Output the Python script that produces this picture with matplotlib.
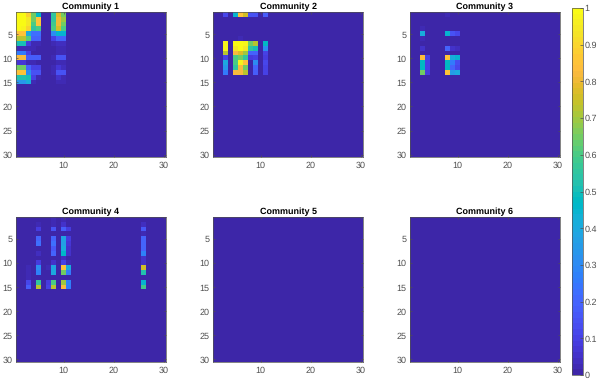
#community matrices, one heatmap per community
import matplotlib
matplotlib.use('Agg')
import matplotlib.pyplot as plt
import numpy as np
from matplotlib.colors import ListedColormap

plt.rcParams['font.family'] = ['Liberation Sans', 'DejaVu Sans']
plt.rcParams['text.hinting'] = 'none'
plt.rcParams['text.hinting_factor'] = 1

N = 30
titles = ['Community 1', 'Community 2', 'Community 3', 'Community 4', 'Community 5', 'Community 6']
xticks = [10, 20, 30]
yticks = [5, 10, 15, 20, 25, 30]
cbar_ticks = [0, 0.1, 0.2, 0.3, 0.4, 0.5, 0.6, 0.7, 0.8, 0.9, 1]
cbar_labels = ['0', '0.1', '0.2', '0.3', '0.4', '0.5', '0.6', '0.7', '0.8', '0.9', '1']

#rows 1-15, columns 1-11
com1 = [
    [1.00, 1.00, 0.88, 0.65, 0.48, 0, 0, 0.55, 0.78, 0.65, 0],
    [1.00, 1.00, 0.95, 0.65, 0.85, 0, 0, 0.55, 0.80, 0.70, 0],
    [1.00, 1.00, 0.95, 0.60, 0.85, 0, 0, 0.58, 0.80, 0.65, 0],
    [1.00, 0.97, 0.90, 0.55, 0.60, 0, 0, 0.60, 0.75, 0.60, 0],
    [0.85, 0.85, 0.40, 0.22, 0.22, 0, 0, 0.30, 0.45, 0.45, 0],
    [0.72, 0.72, 0.62, 0.20, 0.20, 0, 0, 0.10, 0.20, 0.20, 0],
    [0.50, 0.50, 0.08, 0.03, 0.02, 0, 0, 0.02, 0.04, 0.04, 0],
    [0.02, 0.02, 0.03, 0.02, 0.01, 0, 0, 0.01, 0.02, 0.02, 0],
    [0.25, 0.25, 0.10, 0.01, 0.01, 0, 0, 0.01, 0.02, 0.02, 0],
    [0.82, 0.82, 0.18, 0.18, 0.18, 0, 0, 0.02, 0.15, 0.15, 0],
    [0.07, 0.07, 0.03, 0.02, 0.01, 0, 0, 0.01, 0.03, 0.02, 0],
    [0.65, 0.65, 0.20, 0.10, 0.10, 0, 0, 0.02, 0.07, 0.04, 0],
    [0.85, 0.85, 0.30, 0.15, 0.15, 0, 0, 0.03, 0.15, 0.15, 0],
    [0.52, 0.52, 0.50, 0.10, 0.03, 0, 0, 0.01, 0.05, 0.03, 0],
    [0.33, 0.33, 0.42, 0.03, 0.01, 0, 0, 0.01, 0.03, 0.02, 0],
]
com2 = [
    [0, 0, 0.12, 0, 0.45, 0.85, 0.75, 0.15, 0.15, 0, 0.18],
    [0, 0, 0, 0, 0, 0, 0, 0, 0, 0, 0],
    [0, 0, 0, 0, 0, 0, 0, 0, 0, 0, 0],
    [0, 0, 0, 0, 0, 0, 0, 0, 0, 0, 0],
    [0, 0, 0, 0, 0, 0, 0, 0, 0, 0, 0],
    [0, 0, 0, 0, 0, 0.03, 0, 0, 0, 0, 0],
    [0, 0, 0.97, 0, 1.00, 1.00, 0.97, 0.65, 0.72, 0, 0.48],
    [0, 0, 0.97, 0, 0.95, 1.00, 0.95, 0.55, 0.50, 0, 0.30],
    [0, 0, 0.72, 0, 0.82, 0.78, 0.70, 0.20, 0.20, 0, 0.10],
    [0, 0, 0.10, 0, 0.60, 0.65, 0.55, 0.08, 0.10, 0, 0.08],
    [0, 0, 0.40, 0, 0.60, 0.97, 0.85, 0, 0.30, 0, 0.12],
    [0, 0, 0.33, 0, 0.55, 0.82, 0.65, 0, 0.20, 0, 0.10],
    [0, 0, 0.25, 0, 0.82, 0.82, 0.72, 0, 0.18, 0, 0.10],
    [0, 0, 0, 0, 0, 0, 0, 0, 0, 0, 0],
    [0, 0, 0, 0, 0, 0, 0, 0, 0, 0, 0],
]
com3 = [
    [0, 0, 0, 0, 0, 0, 0, 0.02, 0, 0, 0],
    [0, 0, 0, 0, 0, 0, 0, 0, 0, 0, 0],
    [0, 0, 0, 0, 0, 0, 0, 0, 0, 0, 0],
    [0, 0, 0.03, 0, 0, 0, 0, 0.01, 0, 0, 0],
    [0, 0, 0.42, 0, 0, 0, 0, 0.45, 0.15, 0.12, 0],
    [0, 0, 0.03, 0, 0, 0, 0, 0, 0, 0, 0],
    [0, 0, 0, 0, 0, 0, 0, 0, 0, 0, 0],
    [0, 0, 0.06, 0, 0, 0, 0, 0.20, 0.06, 0.04, 0],
    [0, 0, 0, 0, 0, 0, 0, 0, 0, 0, 0],
    [0, 0, 0.83, 0.10, 0, 0, 0, 0.85, 0.42, 0.45, 0],
    [0, 0, 0.47, 0.10, 0, 0, 0, 0.47, 0.25, 0.13, 0],
    [0, 0, 0.47, 0.10, 0, 0, 0, 0.47, 0.20, 0.12, 0],
    [0, 0, 0.65, 0.08, 0, 0, 0, 0.85, 0.35, 0.40, 0],
    [0, 0, 0, 0, 0, 0, 0, 0, 0, 0, 0],
    [0, 0, 0, 0, 0, 0, 0, 0, 0, 0, 0],
]
com4 = [
    [0, 0, 0, 0, 0, 0, 0, 0.02, 0, 0.03, 0],
    [0, 0, 0, 0, 0.03, 0, 0, 0.03, 0, 0.06, 0],
    [0, 0, 0, 0, 0.08, 0, 0, 0.15, 0, 0.18, 0.08],
    [0, 0, 0, 0, 0, 0, 0, 0, 0, 0, 0],
    [0, 0, 0, 0, 0.20, 0, 0, 0.20, 0, 0.38, 0.08],
    [0, 0, 0, 0, 0.22, 0, 0, 0.22, 0, 0.36, 0.07],
    [0, 0, 0, 0, 0, 0, 0, 0.17, 0, 0.42, 0.06],
    [0, 0, 0, 0, 0.04, 0, 0, 0.20, 0, 0.46, 0.05],
    [0, 0, 0, 0, 0, 0, 0, 0, 0, 0.04, 0],
    [0, 0, 0, 0, 0.08, 0, 0, 0.05, 0, 0.10, 0.02],
    [0, 0, 0.03, 0, 0.30, 0, 0.03, 0.38, 0, 0.85, 0.42],
    [0, 0, 0.03, 0, 0.27, 0, 0, 0.40, 0, 0.65, 0.25],
    [0, 0, 0.03, 0, 0, 0, 0, 0, 0, 0, 0],
    [0, 0, 0.12, 0, 0.55, 0, 0.08, 0.60, 0, 0.70, 0.27],
    [0, 0, 0.18, 0, 0.72, 0, 0.10, 0.72, 0, 0.82, 0.25],
]
com4_col26 = [0, 0.04, 0.16, 0.02, 0.20, 0.20, 0.20, 0.28, 0.05, 0.06, 0.75, 0.52, 0, 0.45, 0.58]

parula = ListedColormap([
    [0.2422,0.1504,0.6603],[0.2504,0.1650,0.7076],[0.2578,0.1818,0.7511],[0.2647,0.1978,0.7952],
    [0.2706,0.2147,0.8364],[0.2751,0.2342,0.8710],[0.2783,0.2559,0.8991],[0.2803,0.2782,0.9221],
    [0.2813,0.3006,0.9414],[0.2810,0.3228,0.9579],[0.2795,0.3447,0.9717],[0.2760,0.3667,0.9829],
    [0.2699,0.3892,0.9906],[0.2602,0.4123,0.9952],[0.2440,0.4358,0.9988],[0.2206,0.4603,0.9973],
    [0.1963,0.4847,0.9892],[0.1834,0.5074,0.9798],[0.1786,0.5289,0.9682],[0.1764,0.5499,0.9520],
    [0.1687,0.5703,0.9359],[0.1540,0.5902,0.9218],[0.1460,0.6091,0.9079],[0.1380,0.6276,0.8973],
    [0.1248,0.6459,0.8883],[0.1113,0.6635,0.8763],[0.0952,0.6798,0.8598],[0.0689,0.6948,0.8394],
    [0.0297,0.7082,0.8163],[0.0036,0.7203,0.7917],[0.0067,0.7312,0.7660],[0.0433,0.7411,0.7394],
    [0.0964,0.7500,0.7120],[0.1408,0.7584,0.6842],[0.1717,0.7670,0.6554],[0.1938,0.7758,0.6251],
    [0.2161,0.7843,0.5923],[0.2470,0.7918,0.5567],[0.2906,0.7973,0.5188],[0.3406,0.8008,0.4789],
    [0.3909,0.8029,0.4354],[0.4456,0.8024,0.3909],[0.5044,0.7993,0.3480],[0.5616,0.7942,0.3045],
    [0.6174,0.7876,0.2612],[0.6720,0.7793,0.2227],[0.7242,0.7698,0.1910],[0.7738,0.7598,0.1646],
    [0.8203,0.7498,0.1535],[0.8634,0.7406,0.1596],[0.9035,0.7330,0.1774],[0.9393,0.7288,0.2100],
    [0.9728,0.7298,0.2394],[0.9956,0.7434,0.2371],[0.9970,0.7659,0.2199],[0.9952,0.7861,0.1999],
    [0.9892,0.8136,0.1885],[0.9786,0.8386,0.1766],[0.9676,0.8639,0.1643],[0.9610,0.8890,0.1537],
    [0.9597,0.9135,0.1423],[0.9628,0.9373,0.1265],[0.9691,0.9606,0.1064],[0.9769,0.9839,0.0805]])


def cheia(parte):
    m = np.zeros((N, N))
    p = np.array(parte)
    m[:p.shape[0], :p.shape[1]] = p
    return m


m4 = cheia(com4)
m4[:len(com4_col26), 25] = com4_col26
matrizes = [cheia(com1), cheia(com2), cheia(com3), m4, np.zeros((N, N)), np.zeros((N, N))]

W, H = 599, 381
fig = plt.figure(figsize=(W / 100, H / 100), dpi=100)


def eixo(x0, y0, x1, y1):
    #pixels da imagem, y para baixo
    return fig.add_axes([x0 / W, 1 - y1 / H, (x1 - x0) / W, (y1 - y0) / H])


lefts = [16, 213, 410]
tops = [12.5, 217.3]
cor = '#505050'
for i in range(6):
    x0 = lefts[i % 3]
    y0 = tops[i // 3]
    ax = eixo(x0, y0, x0 + 150, y0 + 144.6)
    im = ax.imshow(matrizes[i], cmap=parula, vmin=0, vmax=1, aspect='auto',
                   interpolation='nearest', extent=[0.5, N + 0.5, N + 0.5, 0.5])
    ax.set_xticks(xticks)
    ax.set_yticks(yticks)
    ax.tick_params(direction='in', length=1.5, width=0.5, labelsize=6.3, color=cor,
                   labelcolor=cor, top=True, right=True)
    ax.tick_params(axis='x', pad=3)
    ax.tick_params(axis='y', pad=2.5)
    for s in ax.spines.values():
        s.set_linewidth(0.5)
        s.set_color(cor)
    ax.set_title(titles[i], fontsize=6.6, fontweight='bold', color='black', pad=2.5)

cax = eixo(571.5, 8, 582.5, 375)
cb = fig.colorbar(im, cax=cax)
cb.set_ticks(cbar_ticks)
cb.set_ticklabels(cbar_labels)
cb.ax.tick_params(direction='in', length=2.5, width=0.5, labelsize=6.3, color=cor,
                  labelcolor=cor, pad=1.5)
cb.outline.set_linewidth(0.5)
cb.outline.set_edgecolor(cor)

fig.savefig('out.png', dpi=100)
